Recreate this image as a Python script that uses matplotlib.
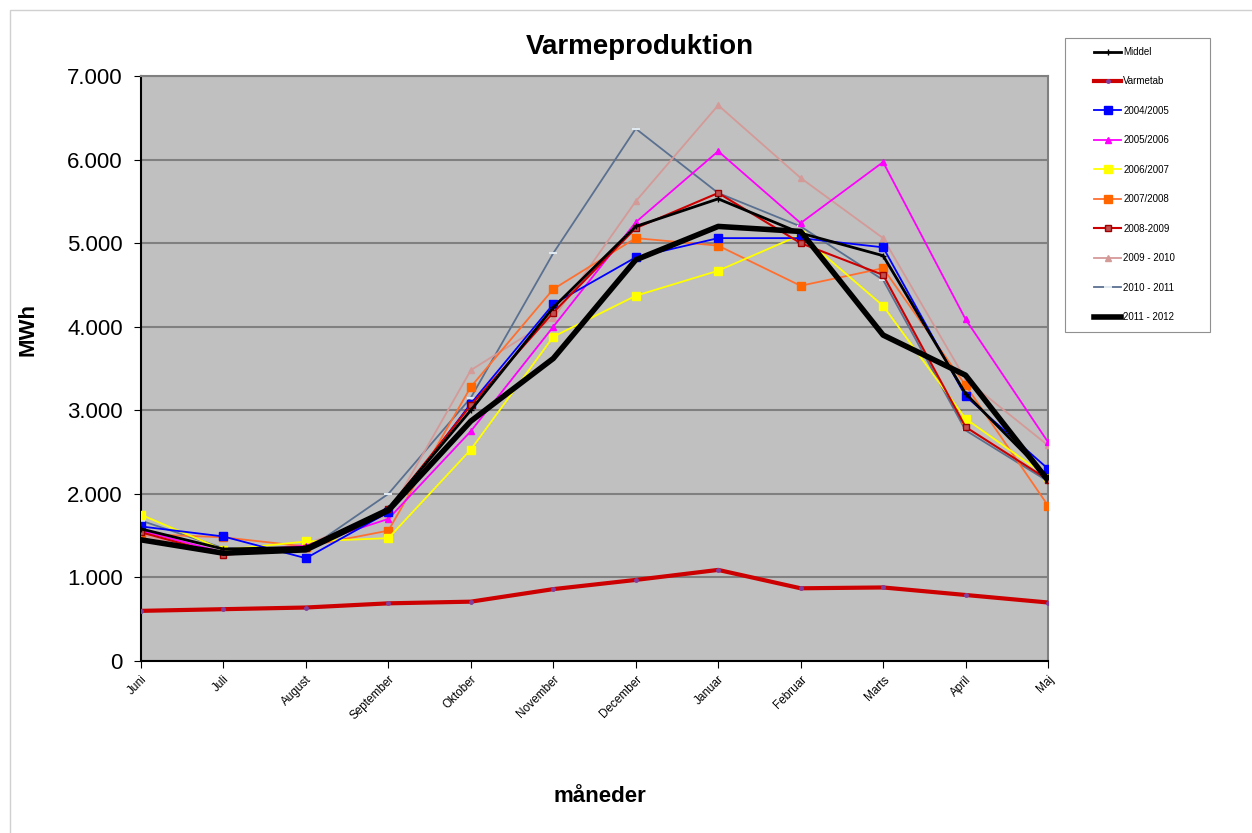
import matplotlib
matplotlib.use("Agg")
import matplotlib.pyplot as plt
from matplotlib.ticker import FuncFormatter, MultipleLocator
from matplotlib.patches import Rectangle

months = ["Juni", "Juli", "August", "September", "Oktober", "November",
          "December", "Januar", "Februar", "Marts", "April", "Maj"]

middel = [1580, 1340, 1360, 1830, 3000, 4230, 5200, 5530, 5120, 4850, 3200, 2200]
varmetab = [600, 620, 640, 690, 710, 860, 970, 1090, 870, 880, 790, 700]
s2004 = [1610, 1490, 1230, 1780, 3080, 4270, 4830, 5060, 5060, 4950, 3170, 2300]
s2005 = [1560, 1300, 1380, 1700, 2750, 4000, 5250, 6100, 5240, 5970, 4090, 2620]
s2006 = [1750, 1330, 1430, 1470, 2530, 3880, 4370, 4670, 5100, 4250, 2900, 2200]
s2007 = [1520, 1480, 1370, 1560, 3280, 4450, 5060, 4970, 4490, 4700, 3300, 1860]
s2008 = [1540, 1270, 1350, 1820, 3060, 4170, 5180, 5600, 5000, 4620, 2800, 2170]
s2009 = [1510, 1270, 1400, 1750, 3480, 4100, 5500, 6650, 5780, 5060, 3370, 2580]
s2010 = [1680, 1350, 1320, 2000, 3150, 4880, 6370, 5600, 5200, 4560, 2760, 2150]
s2011 = [1450, 1290, 1330, 1800, 2870, 3620, 4800, 5200, 5140, 3900, 3420, 2160]

fig = plt.figure(figsize=(12.52, 8.33), dpi=100)
fig.patches.append(Rectangle((10/1252, -0.01), 1.1, 1 - 10/833 + 0.01,
                             transform=fig.transFigure, fill=False,
                             edgecolor="#d0d0d0", linewidth=1.0))
fig.patches.append(Rectangle((1065/1252, 1 - 332/833), 145/1252, 294/833,
                             transform=fig.transFigure, fill=False,
                             edgecolor="#909090", linewidth=0.8))
ax = fig.add_axes([141/1252, 1 - 661/833, (1048 - 141)/1252, (661 - 76)/833])
ax.set_facecolor("#c0c0c0")

x = list(range(len(months)))

ax.plot(x, varmetab, color="#cc0000", lw=3.0, marker="o", ms=2.5,
        mfc="#8040a0", mec="#8040a0", label="Varmetab", zorder=3)
ax.plot(x, s2010, color="#5a7090", lw=1.3, marker="_", ms=6,
        mec="#e0e8f0", mew=1.5, label="2010 - 2011", zorder=4)
ax.plot(x, s2009, color="#d49a98", lw=1.3, marker="^", ms=5,
        mfc="#d49a98", mec="#d49a98", label="2009 - 2010", zorder=4)
ax.plot(x, s2007, color="#ff7030", lw=1.3, marker="s", ms=5.5,
        mfc="#ff6600", mec="#ff6600", label="2007/2008", zorder=4)
ax.plot(x, s2006, color="#ffff00", lw=1.3, marker="s", ms=5.5,
        mfc="#ffff00", mec="#ffff00", label="2006/2007", zorder=4)
ax.plot(x, s2005, color="#ff00ff", lw=1.3, marker="^", ms=5,
        mfc="#ff00ff", mec="#ff00ff", label="2005/2006", zorder=4)
ax.plot(x, s2004, color="#0000ff", lw=1.3, marker="s", ms=5.5,
        mfc="#0000ff", mec="#0000ff", label="2004/2005", zorder=4)
ax.plot(x, s2008, color="#cc0000", lw=1.5, marker="s", ms=4.5,
        mfc="#c05050", mec="#a00000", label="2008-2009", zorder=4)
ax.plot(x, middel, color="#000000", lw=2.0, marker="+", ms=4,
        label="Middel", zorder=5)
ax.plot(x, s2011, color="#000000", lw=4.0, label="2011 - 2012", zorder=6)

ax.set_xlim(0, len(months) - 1)
ax.set_ylim(0, 7000)
ax.yaxis.set_major_locator(MultipleLocator(1000))
ax.yaxis.set_major_formatter(FuncFormatter(lambda v, p: f"{int(v):,}".replace(",", ".")))
ax.grid(axis="y", color="#808080", lw=1.5)
ax.set_axisbelow(True)
ax.set_xticks(x)
ax.set_xticklabels(months, rotation=45, ha="right", rotation_mode="anchor",
                   fontsize=8.5, family="Liberation Sans")
for lab in ax.get_yticklabels():
    lab.set_fontsize(16)
    lab.set_family("Liberation Sans")
ax.tick_params(axis="y", length=5, pad=8)
ax.tick_params(axis="x", length=5, pad=4)
ax.spines["left"].set_color("black")
ax.spines["bottom"].set_color("black")
ax.spines["left"].set_linewidth(1.5)
ax.spines["bottom"].set_linewidth(1.5)
ax.spines["top"].set_color("#808080")
ax.spines["right"].set_color("#808080")
ax.spines["top"].set_linewidth(1.5)
ax.spines["right"].set_linewidth(1.5)

fig.text(640/1252, 1 - 47/833, "Varmeproduktion", ha="center", va="center",
         fontsize=20, fontweight="bold", family="Liberation Sans")
fig.text(28/1252, 1 - 330/833, "MWh", ha="center", va="center", rotation=90,
         fontsize=16, fontweight="bold", family="Liberation Sans")
fig.text(600/1252, 1 - 797/833, "måneder", ha="center", va="center",
         fontsize=16, fontweight="bold", family="Liberation Sans")

order = ["Middel", "Varmetab", "2004/2005", "2005/2006", "2006/2007",
         "2007/2008", "2008-2009", "2009 - 2010", "2010 - 2011", "2011 - 2012"]
h, l = ax.get_legend_handles_labels()
hm = dict(zip(l, h))
leg = fig.legend([hm[k] for k in order], order,
                 loc="upper left", bbox_to_anchor=(1094/1252, 1 - 47/833),
                 prop={"family": "Liberation Sans", "size": 7},
                 frameon=False,
                 labelspacing=2.0, handlelength=2.8, markerscale=1.0,
                 borderpad=0.0, handletextpad=0.2, borderaxespad=0)

fig.savefig("out.png", dpi=100)
